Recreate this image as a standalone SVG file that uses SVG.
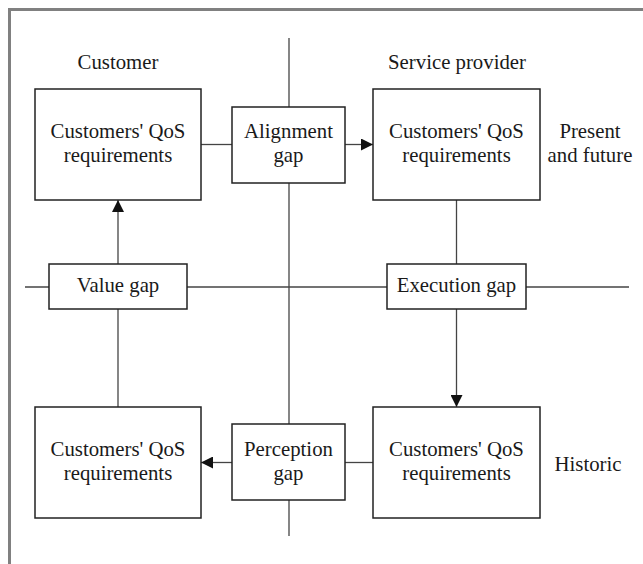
<svg xmlns="http://www.w3.org/2000/svg" width="643" height="564" viewBox="0 0 643 564">
<style>
.bg{fill:#fff}
.frame{stroke:#808080;stroke-width:3;fill:none}
.box{fill:#fff;stroke:#222;stroke-width:1.5}
.ln{stroke:#444;stroke-width:1.3;fill:none}
text{font-family:"Liberation Serif","Times New Roman",serif;font-size:22px;fill:#1a1a1a;text-anchor:middle;transform-box:fill-box;transform-origin:center;transform:scaleX(0.945)}
</style>
<defs>
<marker id="ah" viewBox="0 0 12 12" refX="12" refY="6" markerWidth="12" markerHeight="12" markerUnits="userSpaceOnUse" orient="auto">
<path d="M0,0 L12,6 L0,12 Z" fill="#111"/>
</marker>
</defs>
<rect class="bg" x="0" y="0" width="643" height="564"/>
<path class="frame" d="M9.5,564 V9.5 H643"/>
<g id="connectors">
<line class="ln" x1="289" y1="38" x2="289" y2="536"/>
<line class="ln" x1="25" y1="287" x2="629" y2="287"/>
<line class="ln" x1="201" y1="144.5" x2="232" y2="144.5"/>
<line class="ln" x1="345" y1="144.5" x2="373" y2="144.5" marker-end="url(#ah)"/>
<line class="ln" x1="118" y1="264" x2="118" y2="200" marker-end="url(#ah)"/>
<line class="ln" x1="118" y1="309" x2="118" y2="407"/>
<line class="ln" x1="456.5" y1="200" x2="456.5" y2="264"/>
<line class="ln" x1="456.5" y1="309" x2="456.5" y2="407" marker-end="url(#ah)"/>
<line class="ln" x1="345" y1="462.5" x2="373" y2="462.5"/>
<line class="ln" x1="232" y1="462.5" x2="201" y2="462.5" marker-end="url(#ah)"/>
</g>
<g id="label-customer"><text x="118" y="69">Customer</text></g>
<g id="label-provider"><text x="457" y="69">Service provider</text></g>
<g id="label-present"><text x="590" y="138">Present</text><text x="590" y="162">and future</text></g>
<g id="label-historic"><text x="588" y="471">Historic</text></g>
<g id="cust-present">
<rect class="box" x="35" y="89" width="166" height="111"/>
<text x="118" y="138">Customers' QoS</text><text x="118" y="162">requirements</text>
</g>
<g id="alignment-gap">
<rect class="box" x="232" y="107" width="113" height="76"/>
<text x="288.5" y="138">Alignment</text><text x="288.5" y="162">gap</text>
</g>
<g id="prov-present">
<rect class="box" x="373" y="89" width="167" height="111"/>
<text x="456.5" y="138">Customers' QoS</text><text x="456.5" y="162">requirements</text>
</g>
<g id="value-gap">
<rect class="box" x="49" y="264" width="138" height="45"/>
<text x="118" y="292">Value gap</text>
</g>
<g id="execution-gap">
<rect class="box" x="387" y="264" width="139" height="45"/>
<text x="456.5" y="292">Execution gap</text>
</g>
<g id="cust-historic">
<rect class="box" x="35" y="407" width="166" height="111"/>
<text x="118" y="456">Customers' QoS</text><text x="118" y="480">requirements</text>
</g>
<g id="perception-gap">
<rect class="box" x="232" y="424" width="113" height="76"/>
<text x="288.5" y="456">Perception</text><text x="288.5" y="480">gap</text>
</g>
<g id="prov-historic">
<rect class="box" x="373" y="407" width="167" height="111"/>
<text x="456.5" y="456">Customers' QoS</text><text x="456.5" y="480">requirements</text>
</g>
</svg>
